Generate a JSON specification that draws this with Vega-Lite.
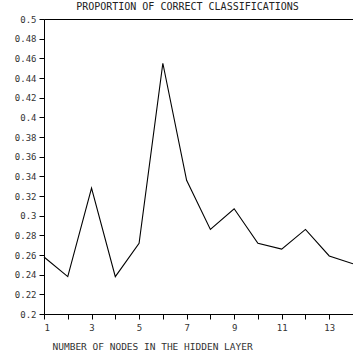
{
  "$schema": "https://vega.github.io/schema/vega-lite/v6.json",
  "autosize": "none",
  "padding": {"left": 44, "top": 19, "right": 0, "bottom": 42},
  "width": 309,
  "height": 295,
  "background": "white",
  "title": {
    "text": "PROPORTION OF CORRECT CLASSIFICATIONS",
    "font": "DejaVu Sans Mono",
    "fontSize": 10,
    "fontWeight": "normal",
    "color": "#222",
    "anchor": "middle",
    "dx": -11,
    "offset": 3
  },
  "config": {
    "view": {"stroke": "black", "strokeWidth": 1},
    "axis": {
      "labelFont": "DejaVu Sans Mono",
      "titleFont": "DejaVu Sans Mono",
      "labelColor": "#333",
      "titleColor": "#333",
      "labelFontSize": 9,
      "titleFontSize": 9.5,
      "titleFontWeight": "normal",
      "domainColor": "black",
      "tickColor": "black",
      "grid": false,
      "tickSize": 5
    }
  },
  "data": {
    "values": [
      {"nodes": 1, "p": 0.258},
      {"nodes": 2, "p": 0.238},
      {"nodes": 3, "p": 0.328},
      {"nodes": 4, "p": 0.238},
      {"nodes": 5, "p": 0.272},
      {"nodes": 6, "p": 0.455},
      {"nodes": 7, "p": 0.336},
      {"nodes": 8, "p": 0.286},
      {"nodes": 9, "p": 0.307},
      {"nodes": 10, "p": 0.272},
      {"nodes": 11, "p": 0.266},
      {"nodes": 12, "p": 0.286},
      {"nodes": 13, "p": 0.259},
      {"nodes": 14, "p": 0.251}
    ]
  },
  "mark": {"type": "line", "color": "black", "strokeWidth": 1.1},
  "encoding": {
    "x": {
      "field": "nodes",
      "type": "quantitative",
      "scale": {"domain": [1, 14], "nice": false, "zero": false},
      "axis": {
        "values": [1, 2, 3, 4, 5, 6, 7, 8, 9, 10, 11, 12, 13, 14],
        "labelExpr": "datum.value % 2 == 1 ? datum.label : ''",
        "labelPadding": 4,
        "title": "NUMBER OF NODES IN THE HIDDEN LAYER",
        "titleAnchor": "start",
        "titleX": 8,
        "titleY": 35,
        "titleBaseline": "alphabetic"
      }
    },
    "y": {
      "field": "p",
      "type": "quantitative",
      "scale": {"domain": [0.2, 0.5], "nice": false, "zero": false},
      "axis": {
        "values": [0.2, 0.22, 0.24, 0.26, 0.28, 0.3, 0.32, 0.34, 0.36, 0.38, 0.4, 0.42, 0.44, 0.46, 0.48, 0.5],
        "format": ".2~f",
        "labelPadding": 3,
        "title": null
      }
    }
  }
}
